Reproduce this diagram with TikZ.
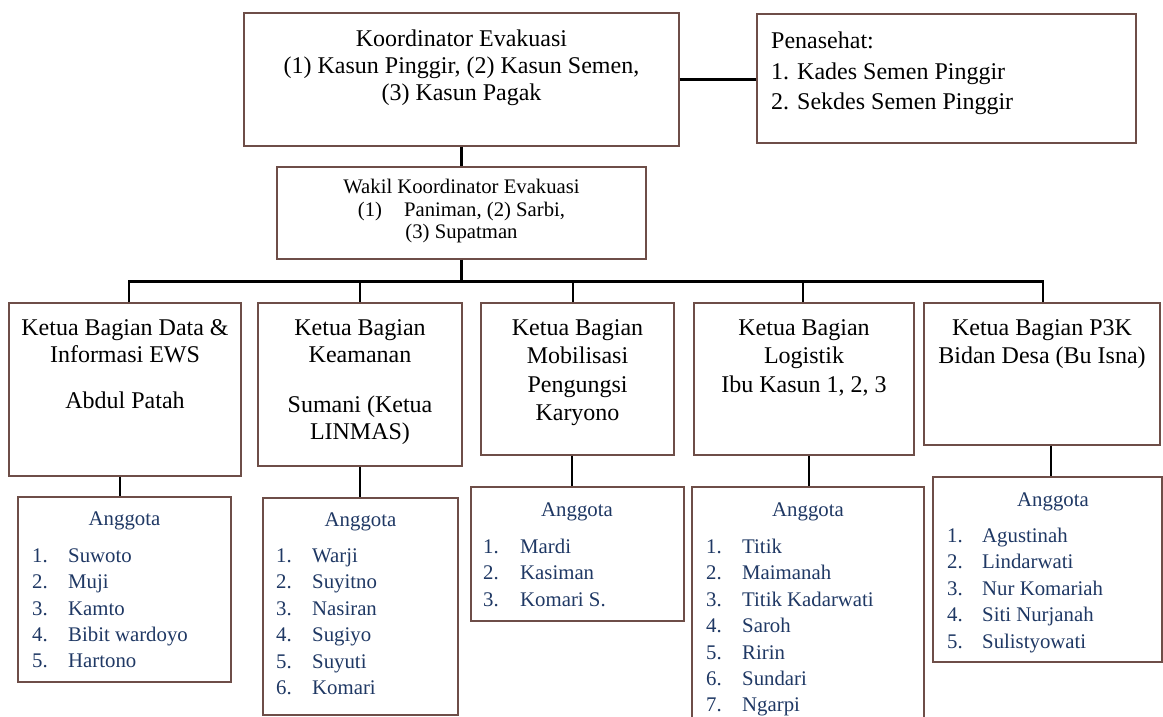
\documentclass[tikz,border=0pt]{standalone}
\usepackage{fontspec}
\setmainfont{Liberation Serif}
\definecolor{boxline}{RGB}{110,78,72}
\definecolor{navy}{RGB}{31,56,100}
\newcommand\tlines[5]{%
  \foreach \t [count=\i] in {#5} {\node[ttl] (#1-\i) at (#2,{#3+#4*(\i-1)}) {\t};}}
\newcommand\mlist[6]{% name, numx, namex, y0, spacing, list
  \foreach \t [count=\i] in {#6} {%
    \node[mem] (#1n\i) at (#2,{#4+#5*(\i-1)}) {\i.};
    \node[mem] (#1t\i) at (#3,{#4+#5*(\i-1)}) {\t};}}
\begin{document}
\begin{tikzpicture}[x=1pt,y=-1pt,
  box/.style={draw=boxline, line width=1.3pt, inner sep=0pt, fill=white},
  conn/.style={draw=black, line width=2.6pt},
  ttl/.style={font=\fontsize{24}{30}\selectfont, anchor=base, inner sep=0pt},
  ttlw/.style={ttl, anchor=base west},
  wak/.style={font=\fontsize{20.7}{26}\selectfont, anchor=base, inner sep=0pt},
  mem/.style={font=\fontsize{20.8}{26}\selectfont, text=navy, anchor=base west, inner sep=0pt},
  memh/.style={mem, anchor=base}]
\useasboundingbox (0,0) rectangle (1163,717);
\fill[white] (0,0) rectangle (1163,717);

% boxes
\node[box, minimum width=435pt, minimum height=133pt] (K) at (461.5,79.5) {};
\node[box, minimum width=379pt, minimum height=129pt] (P) at (946.5,78.5) {};
\node[box, minimum width=369pt, minimum height=92pt] (W) at (461.5,213) {};
\node[box, minimum width=232pt, minimum height=173pt] (B1) at (125,389.5) {};
\node[box, minimum width=204pt, minimum height=163pt] (B2) at (360,384.5) {};
\node[box, minimum width=193pt, minimum height=152pt] (B3) at (577.5,379) {};
\node[box, minimum width=220pt, minimum height=152pt] (B4) at (804,379) {};
\node[box, minimum width=236pt, minimum height=142pt] (B5) at (1042,374) {};
\node[box, minimum width=213pt, minimum height=185pt] (A1) at (124.5,589.5) {};
\node[box, minimum width=195pt, minimum height=217pt] (A2) at (360.5,606.5) {};
\node[box, minimum width=213pt, minimum height=134pt] (A3) at (577.5,554) {};
\node[box, minimum width=232pt, minimum height=238pt] (A4) at (808,606) {};
\node[box, minimum width=229pt, minimum height=185pt] (A5) at (1047.5,569.5) {};

% connectors
\draw[conn] (K.east) -- (K.east -| P.west);
\draw[conn] (K.south) -- (W.north);
\coordinate (bar) at ([yshift=-22pt]W.south);
\draw[conn] (W.south) -- (bar);
\draw[conn] ([xshift=4pt]B1.north) |- (bar) -| ([xshift=1pt]B5.north);
\coordinate (j2) at (B2.north |- bar);
\coordinate (j3) at ([xshift=-4.5pt]B3.north |- bar);
\coordinate (j4) at ([xshift=-1pt]B4.north |- bar);
\draw[conn] (j2) -- (B2.north);
\draw[conn] (j3) -- (j3 |- B3.north);
\draw[conn] (j4) -- (j4 |- B4.north);
\draw[conn] ([xshift=-5pt]B1.south) -- ([xshift=-5pt]B1.south |- A1.north);
\draw[conn] (B2.south) -- (B2.south |- A2.north);
\draw[conn] ([xshift=-5.5pt]B3.south) -- ([xshift=-5.5pt]B3.south |- A3.north);
\draw[conn] ([xshift=5pt]B4.south) -- ([xshift=5pt]B4.south |- A4.north);
\draw[conn] ([xshift=9pt]B5.south) -- ([xshift=9pt]B5.south |- A5.north);

% titles
\tlines{k}{461.5}{47}{26.5}{Koordinator Evakuasi, {(1) Kasun Pinggir, (2) Kasun Semen,}, (3) Kasun Pagak}
\node[ttlw] (p1) at (771,49) {Penasehat:};
\node[ttlw] (p2) at (771,80) {1. Kades Semen Pinggir};
\node[ttlw] (p3) at (771,110) {2. Sekdes Semen Pinggir};
\node[wak] (w1) at (461.5,193.5) {Wakil Koordinator Evakuasi};
\node[wak] (w2) at (461.5,216) {(1)\hspace{22pt}Paniman, (2) Sarbi,};
\node[wak] (w3) at (461.5,238.5) {(3) Supatman};
\tlines{b1}{125}{335}{27}{Ketua Bagian Data \&, Informasi EWS}
\node[ttl] (b1-3) at (125,408) {Abdul Patah};
\tlines{b2}{360}{335}{27}{Ketua Bagian, Keamanan}
\tlines{b2x}{360}{412}{27.5}{Sumani (Ketua, LINMAS)}
\tlines{b3}{577.5}{335}{28.5}{Ketua Bagian, Mobilisasi, Pengungsi, Karyono}
\tlines{b4}{804}{335}{28.5}{Ketua Bagian, Logistik, {Ibu Kasun 1, 2, 3}}
\tlines{b5}{1042}{335}{28}{Ketua Bagian P3K, Bidan Desa (Bu Isna)}

% members
\node[memh] (a1h) at (124.5,525.5) {Anggota};
\mlist{a1}{32}{68}{562.5}{26.3}{Suwoto, Muji, Kamto, Bibit wardoyo, Hartono}
\node[memh] (a2h) at (360.5,526.5) {Anggota};
\mlist{a2}{276}{312}{562.5}{26.4}{Warji, Suyitno, Nasiran, Sugiyo, Suyuti, Komari}
\node[memh] (a3h) at (577,516.5) {Anggota};
\mlist{a3}{483}{520}{553.5}{26.3}{Mardi, Kasiman, Komari S.}
\node[memh] (a4h) at (808,516.5) {Anggota};
\mlist{a4}{706}{742}{553.5}{26.4}{Titik, Maimanah, Titik Kadarwati, Saroh, Ririn, Sundari, Ngarpi}
\node[memh] (a5h) at (1053,506.5) {Anggota};
\mlist{a5}{947}{982}{542.5}{26.4}{Agustinah, Lindarwati, Nur Komariah, Siti Nurjanah, Sulistyowati}
\end{tikzpicture}
\end{document}
